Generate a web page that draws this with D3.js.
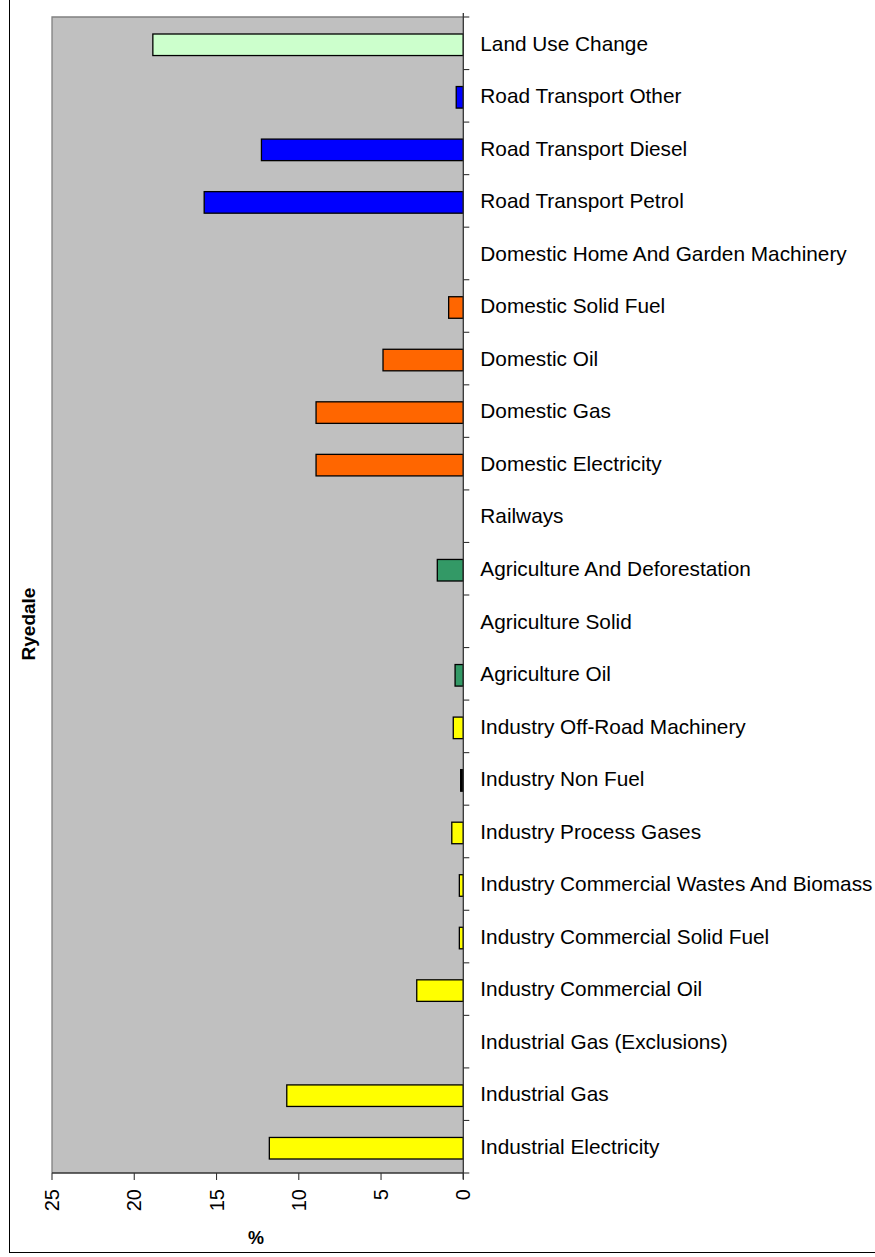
<!DOCTYPE html>
<html>
<head>
<meta charset="utf-8">
<script src="https://cdn.jsdelivr.net/npm/d3@7"></script>
<style>
  html, body { margin: 0; padding: 0; background: #fff; }
  svg { display: block; font-family: "Liberation Sans", Arial, sans-serif; }
</style>
</head>
<body>
<svg id="chart" width="875" height="1257"></svg>
<script>
// Data (top to bottom as shown)
const categories = [
  "Land Use Change",
  "Road Transport Other",
  "Road Transport Diesel",
  "Road Transport Petrol",
  "Domestic Home And Garden Machinery",
  "Domestic Solid Fuel",
  "Domestic Oil",
  "Domestic Gas",
  "Domestic Electricity",
  "Railways",
  "Agriculture And Deforestation",
  "Agriculture Solid",
  "Agriculture Oil",
  "Industry Off-Road Machinery",
  "Industry Non Fuel",
  "Industry Process Gases",
  "Industry Commercial Wastes And Biomass",
  "Industry Commercial Solid Fuel",
  "Industry Commercial Oil",
  "Industrial Gas (Exclusions)",
  "Industrial Gas",
  "Industrial Electricity"
];
const values = [
  18.87, 0.43, 12.27, 15.75, 0, 0.89, 4.88, 8.95, 8.95, 0,
  1.58, 0, 0.5, 0.61, 0.16, 0.7, 0.24, 0.24, 2.83, 0, 10.73, 11.79
];
const groups = [
  "land", "road", "road", "road", "dom", "dom", "dom", "dom", "dom", "rail",
  "agri", "agri", "agri", "ind", "indnf", "ind", "ind", "ind", "ind", "ind", "ind", "ind"
];
const groupColors = {
  land: "#CCFFCC", road: "#0000FF", dom: "#FF6600", rail: "#FF6600",
  agri: "#339966", ind: "#FFFF00", indnf: "#000000"
};
const xTicks = [25, 20, 15, 10, 5, 0];
const xTitle = "%";
const yTitle = "Ryedale";

const svg = d3.select("#chart");

// outer frame
svg.append("rect")
  .attr("x", 9.5).attr("y", -5)
  .attr("width", 1000).attr("height", 1257.5)
  .attr("fill", "none").attr("stroke", "#000").attr("stroke-width", 1);

const plot = { left: 52, right: 463.3, top: 17, bottom: 1173 };

const x = d3.scaleLinear().domain([25, 0]).range([plot.left, plot.right]);
const y = d3.scaleBand().domain(categories).range([plot.top, plot.bottom]).paddingInner(0).paddingOuter(0);

// plot area
svg.append("rect")
  .attr("x", plot.left).attr("y", plot.top)
  .attr("width", plot.right - plot.left).attr("height", plot.bottom - plot.top)
  .attr("fill", "#C0C0C0");
svg.append("path")
  .attr("d", `M${plot.left},${plot.bottom}V${plot.top}H${plot.right}`)
  .attr("fill", "none").attr("stroke", "#808080").attr("stroke-width", 1.3);

// bars
const bw = y.bandwidth();
const barH = bw * 0.41;
svg.append("g").selectAll("rect")
  .data(categories.map((c, i) => ({ c, v: values[i], g: groups[i] })).filter(d => d.v > 0))
  .join("rect")
  .attr("x", d => x(d.v))
  .attr("y", d => y(d.c) + bw / 2 - barH / 2 + 1.5)
  .attr("width", d => x(0) - x(d.v))
  .attr("height", barH)
  .attr("fill", d => groupColors[d.g])
  .attr("stroke", "#000")
  .attr("stroke-width", 1.3);

// y axis at zero (right side), ticks at category boundaries
const yAxisG = svg.append("g");
yAxisG.append("line")
  .attr("x1", x(0)).attr("x2", x(0))
  .attr("y1", plot.top - 4).attr("y2", plot.bottom + 6)
  .attr("stroke", "#333").attr("stroke-width", 1.3);
const boundaries = categories.map(c => y(c)).concat([plot.bottom]);
yAxisG.selectAll("line.tick")
  .data(boundaries)
  .join("line")
  .attr("class", "tick")
  .attr("x1", x(0)).attr("x2", x(0) + 6)
  .attr("y1", d => d).attr("y2", d => d)
  .attr("stroke", "#333").attr("stroke-width", 1.1);
yAxisG.selectAll("text")
  .data(categories)
  .join("text")
  .attr("x", x(0) + 17)
  .attr("y", d => y(d) + bw / 2)
  .attr("dy", "0.35em")
  .attr("font-size", "20.8px")
  .attr("fill", "#000")
  .text(d => d);

// x axis at bottom
const xAxisG = svg.append("g");
xAxisG.append("line")
  .attr("x1", plot.left).attr("x2", plot.right)
  .attr("y1", plot.bottom).attr("y2", plot.bottom)
  .attr("stroke", "#333").attr("stroke-width", 1.3);
xAxisG.selectAll("line.tick")
  .data(xTicks)
  .join("line")
  .attr("class", "tick")
  .attr("x1", d => x(d)).attr("x2", d => x(d))
  .attr("y1", plot.bottom).attr("y2", plot.bottom + 7)
  .attr("stroke", "#333").attr("stroke-width", 1.1);
xAxisG.selectAll("text")
  .data(xTicks)
  .join("text")
  .attr("transform", d => `translate(${x(d)},${plot.bottom + 16}) rotate(-90)`)
  .attr("text-anchor", "end")
  .attr("dy", "0.35em")
  .attr("font-size", "20px")
  .attr("fill", "#000")
  .text(d => d);

// axis titles
svg.append("text")
  .attr("x", 256).attr("y", 1238)
  .attr("text-anchor", "middle")
  .attr("dy", "0.35em")
  .attr("font-size", "18px").attr("font-weight", "bold")
  .text(xTitle);
svg.append("text")
  .attr("transform", "translate(28,624) rotate(-90)")
  .attr("text-anchor", "middle")
  .attr("dy", "0.35em")
  .attr("font-size", "19px").attr("font-weight", "bold")
  .text(yTitle);
</script>
</body>
</html>
